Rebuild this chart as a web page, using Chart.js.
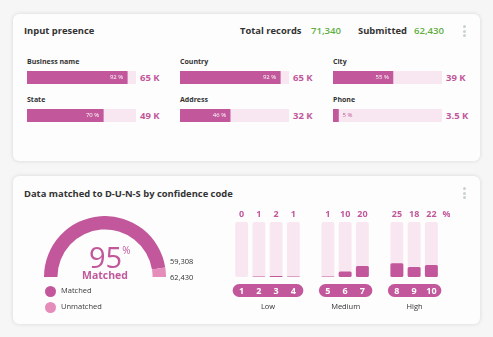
<!DOCTYPE html>
<html>
<head>
<meta charset="utf-8">
<script src="https://cdn.jsdelivr.net/npm/chart.js@4.4.1/dist/chart.umd.min.js"></script>
<style>
  body { margin: 0; width: 493px; height: 337px; background: #f6f6f6; font-family: "Open Sans", sans-serif; position: relative; overflow: hidden; }
  .card { position: absolute; left: 13px; width: 467px; background: #fdfdfd; border-radius: 6px; box-shadow: 0 0 4px rgba(0,0,0,0.13); }
  .abs { position: absolute; white-space: nowrap; }
  .title { font-size: 9.4px; font-weight: 700; color: #333; }
  .green { font-size: 9.6px; font-weight: 600; color: #5fae44; }
  .kebab { position: absolute; width: 3px; }
  .kebab i { display: block; width: 3px; height: 3px; border-radius: 50%; background: #c9d1d1; margin-bottom: 1.5px; }
  .field { font-size: 7px; font-weight: 700; color: #333; }
  .count { font-size: 9.5px; font-weight: 700; color: #c2589b; line-height: 13px; }
  .small { font-size: 7.5px; color: #333; }
  .dot { position: absolute; width: 11px; height: 11px; border-radius: 50%; }
</style>
</head>
<body>
<div class="card" style="top:14px;height:147px"></div>
<div class="card" style="top:176px;height:148px"></div>

<div class="abs title" style="left:24px;top:24px">Input presence</div>
<div class="abs title" style="left:240px;top:24px">Total records</div>
<div class="abs green" id="totalRec" style="left:311px;top:24px"></div>
<div class="abs title" style="left:358px;top:24px">Submitted</div>
<div class="abs green" id="submittedRec" style="left:414px;top:24px"></div>
<div class="kebab" style="left:463px;top:25px"><i></i><i></i><i></i></div>

<div id="inputBars"></div>

<div class="abs title" style="left:24px;top:187px">Data matched to D-U-N-S by confidence code</div>
<div class="kebab" style="left:463px;top:187px"><i></i><i></i><i></i></div>

<canvas id="gauge" style="position:absolute;left:44px;top:216px;width:122px;height:61px"></canvas>
<div class="abs" id="gaugePct" style="left:89px;top:240px;color:#c2589b;font-size:29px;line-height:34px"></div>
<div class="abs" id="gaugeLbl" style="left:74px;top:268px;width:62px;text-align:center;color:#c2589b;font-size:10.5px;font-weight:700"></div>
<div class="abs small" id="matchedLbl" style="left:170px;top:256px"></div>
<div class="abs small" id="totalLbl" style="left:170px;top:272px"></div>
<div id="gaugeLegend"></div>

<canvas id="confChart" style="position:absolute;left:225px;top:205px;width:225px;height:110px"></canvas>

<script>
// Input presence
const fieldNames = ['Business name', 'Country', 'City', 'State', 'Address', 'Phone'];
const fieldPercent = [92, 92, 55, 70, 46, 5];
const fieldCounts = ['65 K', '65 K', '39 K', '49 K', '32 K', '3.5 K'];
const totalRecords = '71,340';
const submittedRecords = '62,430';

// Matched gauge
const matchedCount = 59308;
const submittedCount = 62430;
const gaugeLabels = ['Matched', 'Unmatched'];

// Confidence codes
const confGroups = ['Low', 'Medium', 'High'];
const confCodes = [[1, 2, 3, 4], [5, 6, 7], [8, 9, 10]];
const confPercent = [[0, 1, 2, 1], [1, 10, 20], [25, 18, 22]];

const pink = '#c2589b';
const lightPink = '#e58cba';
const track = '#f8e7f1';

document.getElementById('totalRec').textContent = totalRecords;
document.getElementById('submittedRec').textContent = submittedRecords;

// label inside (or next to) the fill of each small bar
const pctLabel = {
    id: 'pctLabel',
    afterDatasetsDraw(chart) {
        const bar = chart.getDatasetMeta(0).data[0];
        const v = chart.data.datasets[0].data[0];
        const ctx = chart.ctx;
        ctx.save();
        ctx.font = '6px "Open Sans"';
        ctx.textBaseline = 'middle';
        if (v > 15) {
            ctx.fillStyle = '#fff';
            ctx.textAlign = 'right';
            ctx.fillText(v + ' %', bar.x - 4, bar.y);
        } else {
            ctx.fillStyle = pink;
            ctx.textAlign = 'left';
            ctx.fillText(v + ' %', bar.x + 4, bar.y);
        }
        ctx.restore();
    }
};

const colX = [27, 180, 333];
const rowY = [71, 109];
const holder = document.getElementById('inputBars');

fieldNames.forEach((name, i) => {
    const x = colX[i % 3];
    const y = rowY[Math.floor(i / 3)];
    holder.innerHTML += `<div class="abs field" style="left:${x}px;top:${y - 14}px">${name}</div>
        <canvas id="bar${i}" style="position:absolute;left:${x}px;top:${y}px;width:109px;height:13px"></canvas>
        <div class="abs count" style="left:${x + 113}px;top:${y}px">${fieldCounts[i]}</div>`;
});

fieldNames.forEach((name, i) => {
    new Chart(document.getElementById('bar' + i), {
        type: 'bar',
        data: {
            labels: [name],
            datasets: [
                { data: [fieldPercent[i]], backgroundColor: pink, borderRadius: 1, borderSkipped: false },
                { data: [100], backgroundColor: track, borderRadius: 1, borderSkipped: false }
            ]
        },
        options: {
            indexAxis: 'y',
            responsive: false,
            animation: false,
            grouped: false,
            categoryPercentage: 1,
            barPercentage: 1,
            layout: { padding: 0 },
            scales: {
                x: { display: false, min: 0, max: 100 },
                y: { display: false }
            },
            plugins: { legend: { display: false }, tooltip: { enabled: false } }
        },
        plugins: [pctLabel]
    });
});

// Gauge
const matchedPct = Math.round(matchedCount / submittedCount * 100);
document.getElementById('gaugePct').innerHTML = matchedPct + '<span style="font-size:10px;vertical-align:top;line-height:20px">%</span>';
document.getElementById('gaugeLbl').textContent = gaugeLabels[0];
document.getElementById('matchedLbl').textContent = matchedCount.toLocaleString('en-US');
document.getElementById('totalLbl').textContent = submittedCount.toLocaleString('en-US');

const gaugeColors = [pink, lightPink];
const legendHolder = document.getElementById('gaugeLegend');
gaugeLabels.forEach((label, i) => {
    const y = 291 + i * 16;
    legendHolder.innerHTML += `<div class="dot" style="left:45px;top:${y - 5.5}px;background:${gaugeColors[i]}"></div>
        <div class="abs small" style="left:61px;top:${y - 6}px;color:#3a3a3a;font-weight:500">${label}</div>`;
});

new Chart(document.getElementById('gauge'), {
    type: 'doughnut',
    data: {
        labels: gaugeLabels,
        datasets: [{
            data: [matchedCount, submittedCount - matchedCount],
            backgroundColor: gaugeColors,
            borderWidth: 0
        }]
    },
    options: {
        responsive: false,
        animation: false,
        rotation: -90,
        circumference: 180,
        cutout: '78%',
        plugins: { legend: { display: false }, tooltip: { enabled: false } }
    }
});

// Confidence code chart: groups separated by an empty slot
const confLabels = [];
const confValues = [];
const confTrack = [];
const slotGroup = [];
confCodes.forEach((codes, g) => {
    if (g > 0) {
        confLabels.push('');
        confValues.push(null);
        confTrack.push(null);
        slotGroup.push(-1);
    }
    codes.forEach((c, k) => {
        confLabels.push(String(c));
        confValues.push(confPercent[g][k]);
        confTrack.push(100);
        slotGroup.push(g);
    });
});

const confDecor = {
    id: 'confDecor',
    afterDraw(chart) {
        const ctx = chart.ctx;
        const xs = chart.scales.x;
        const area = chart.chartArea;
        ctx.save();
        ctx.textAlign = 'center';
        ctx.textBaseline = 'middle';
        // values above the tracks
        ctx.font = 'bold 9px "Open Sans"';
        ctx.fillStyle = pink;
        let last = 0;
        confValues.forEach((v, i) => {
            if (v === null) return;
            ctx.fillText(String(v), xs.getPixelForValue(i), area.top - 8);
            last = i;
        });
        ctx.textAlign = 'left';
        ctx.fillText('%', xs.getPixelForValue(last) + 11, area.top - 8);
        ctx.textAlign = 'center';
        // pills with the codes, and group names
        confGroups.forEach((name, g) => {
            const idx = slotGroup.map((s, i) => s === g ? i : -1).filter(i => i >= 0);
            const x0 = xs.getPixelForValue(idx[0]) - 9;
            const x1 = xs.getPixelForValue(idx[idx.length - 1]) + 10;
            const y0 = area.bottom + 7;
            const h = 13;
            ctx.fillStyle = pink;
            ctx.beginPath();
            ctx.roundRect(x0, y0, x1 - x0, h, h / 2);
            ctx.fill();
            ctx.fillStyle = '#fff';
            ctx.font = 'bold 9px "Open Sans"';
            idx.forEach(i => ctx.fillText(confLabels[i], xs.getPixelForValue(i), y0 + h / 2 + 0.5));
            ctx.fillStyle = '#333';
            ctx.font = '7.5px "Open Sans"';
            ctx.fillText(name, (x0 + x1) / 2, area.bottom + 30);
        });
        ctx.restore();
    }
};

new Chart(document.getElementById('confChart'), {
    type: 'bar',
    data: {
        labels: confLabels,
        datasets: [
            { data: confValues, backgroundColor: pink, borderRadius: 1.5, borderSkipped: false },
            { data: confTrack, backgroundColor: track, borderRadius: 2, borderSkipped: false }
        ]
    },
    options: {
        responsive: false,
        animation: false,
        grouped: false,
        categoryPercentage: 1,
        barPercentage: 0.75,
        layout: { padding: { left: 8, right: 10, top: 17, bottom: 38 } },
        scales: {
            x: { display: false },
            y: { display: false, min: 0, max: 100 }
        },
        plugins: { legend: { display: false }, tooltip: { enabled: false } }
    },
    plugins: [confDecor]
});
</script>
</body>
</html>
